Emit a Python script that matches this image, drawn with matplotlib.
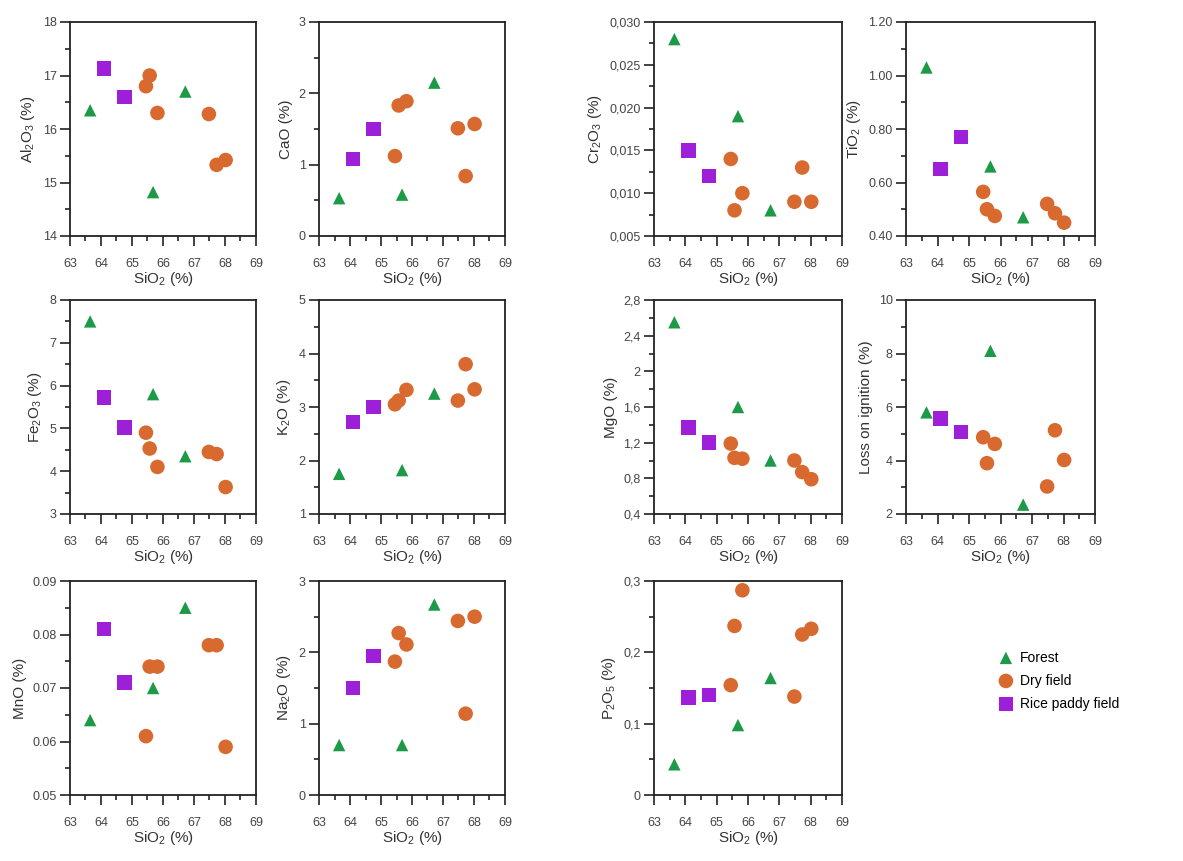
import matplotlib
matplotlib.use("Agg")
import matplotlib.pyplot as plt
from matplotlib.ticker import MultipleLocator

plt.rcParams['font.family'] = ['Liberation Sans', 'DejaVu Sans']
plt.rcParams['mathtext.default'] = 'regular'

# SiO2 (%) for each land use group
sio2_forest = [63.65, 65.68, 66.72]
sio2_rice = [64.10, 64.75]
sio2_dry = [65.45, 65.57, 65.82, 67.48, 67.73, 68.02]

# oxide values: forest / rice paddy field / dry field
al2o3_forest = [16.35, 14.82, 16.70]
al2o3_rice = [17.13, 16.60]
al2o3_dry = [16.80, 17.00, 16.30, 16.28, 15.33, 15.42]

cao_forest = [0.53, 0.58, 2.15]
cao_rice = [1.08, 1.50]
cao_dry = [1.12, 1.83, 1.89, 1.51, 0.84, 1.57]

cr2o3_forest = [0.028, 0.019, 0.008]
cr2o3_rice = [0.015, 0.012]
cr2o3_dry = [0.014, 0.008, 0.010, 0.009, 0.013, 0.009]

tio2_forest = [1.03, 0.66, 0.47]
tio2_rice = [0.65, 0.77]
tio2_dry = [0.565, 0.50, 0.475, 0.52, 0.485, 0.45]

fe2o3_forest = [7.50, 5.80, 4.35]
fe2o3_rice = [5.72, 5.02]
fe2o3_dry = [4.90, 4.53, 4.10, 4.45, 4.40, 3.63]

k2o_forest = [1.75, 1.82, 3.25]
k2o_rice = [2.72, 3.00]
k2o_dry = [3.05, 3.12, 3.32, 3.12, 3.80, 3.33]

mgo_forest = [2.55, 1.60, 1.00]
mgo_rice = [1.37, 1.20]
mgo_dry = [1.19, 1.03, 1.02, 1.00, 0.87, 0.79]

loi_forest = [5.80, 8.10, 2.35]
loi_rice = [5.57, 5.07]
loi_dry = [4.87, 3.90, 4.62, 3.03, 5.13, 4.02]

mno_forest = [0.064, 0.070, 0.085]
mno_rice = [0.081, 0.071]
mno_dry = [0.061, 0.074, 0.074, 0.078, 0.078, 0.059]

na2o_forest = [0.70, 0.70, 2.67]
na2o_rice = [1.50, 1.95]
na2o_dry = [1.87, 2.27, 2.11, 2.44, 1.14, 2.50]

p2o5_forest = [0.043, 0.098, 0.164]
p2o5_rice = [0.137, 0.140]
p2o5_dry = [0.154, 0.237, 0.287, 0.138, 0.225, 0.233]

# y tick values and labels as printed on the original
al2o3_ticks = [14, 15, 16, 17, 18]
al2o3_labels = ["14", "15", "16", "17", "18"]
cao_ticks = [0, 1, 2, 3]
cao_labels = ["0", "1", "2", "3"]
cr2o3_ticks = [0.005, 0.010, 0.015, 0.020, 0.025, 0.030]
cr2o3_labels = ["0,005", "0,010", "0,015", "0,020", "0,025", "0,030"]
tio2_ticks = [0.40, 0.60, 0.80, 1.00, 1.20]
tio2_labels = ["0.40", "0.60", "0.80", "1.00", "1.20"]
fe2o3_ticks = [3, 4, 5, 6, 7, 8]
fe2o3_labels = ["3", "4", "5", "6", "7", "8"]
k2o_ticks = [1, 2, 3, 4, 5]
k2o_labels = ["1", "2", "3", "4", "5"]
mgo_ticks = [0.4, 0.8, 1.2, 1.6, 2.0, 2.4, 2.8]
mgo_labels = ["0,4", "0,8", "1,2", "1,6", "2", "2,4", "2,8"]
loi_ticks = [2, 4, 6, 8, 10]
loi_labels = ["2", "4", "6", "8", "10"]
mno_ticks = [0.05, 0.06, 0.07, 0.08, 0.09]
mno_labels = ["0.05", "0.06", "0.07", "0.08", "0.09"]
na2o_ticks = [0, 1, 2, 3]
na2o_labels = ["0", "1", "2", "3"]
p2o5_ticks = [0, 0.1, 0.2, 0.3]
p2o5_labels = ["0", "0,1", "0,2", "0,3"]

x_ticks = [63, 64, 65, 66, 67, 68, 69]

COLOR_FOREST = "#1c9a48"
COLOR_DRY = "#d8692f"
COLOR_RICE = "#9e1fd8"

panels = [
    ("Al$_2$O$_3$ (%)", al2o3_forest, al2o3_rice, al2o3_dry, al2o3_ticks, al2o3_labels),
    ("CaO (%)", cao_forest, cao_rice, cao_dry, cao_ticks, cao_labels),
    ("Cr$_2$O$_3$ (%)", cr2o3_forest, cr2o3_rice, cr2o3_dry, cr2o3_ticks, cr2o3_labels),
    ("TiO$_2$ (%)", tio2_forest, tio2_rice, tio2_dry, tio2_ticks, tio2_labels),
    ("Fe$_2$O$_3$ (%)", fe2o3_forest, fe2o3_rice, fe2o3_dry, fe2o3_ticks, fe2o3_labels),
    ("K$_2$O (%)", k2o_forest, k2o_rice, k2o_dry, k2o_ticks, k2o_labels),
    ("MgO (%)", mgo_forest, mgo_rice, mgo_dry, mgo_ticks, mgo_labels),
    ("Loss on ignition (%)", loi_forest, loi_rice, loi_dry, loi_ticks, loi_labels),
    ("MnO (%)", mno_forest, mno_rice, mno_dry, mno_ticks, mno_labels),
    ("Na$_2$O (%)", na2o_forest, na2o_rice, na2o_dry, na2o_ticks, na2o_labels),
    ("P$_2$O$_5$ (%)", p2o5_forest, p2o5_rice, p2o5_dry, p2o5_ticks, p2o5_labels),
]

W, H = 1183, 861
col_left = [70, 319, 654, 906]
col_width = [186, 186, 188, 189]
row_top = [22, 300, 581]
panel_h = 214

fig = plt.figure(figsize=(W / 100, H / 100), dpi=100)

handles = None
for i, (ylabel, yf, yr, yd, yt, ytl) in enumerate(panels):
    r, c = divmod(i, 4)
    ax = fig.add_axes([col_left[c] / W, (H - row_top[r] - panel_h) / H,
                       col_width[c] / W, panel_h / H])
    h1 = ax.scatter(sio2_forest, yf, marker="^", s=80, color=COLOR_FOREST,
                    edgecolors="none", label="Forest", zorder=3)
    h2 = ax.scatter(sio2_dry, yd, marker="o", s=110, color=COLOR_DRY,
                    edgecolors="none", label="Dry field", zorder=3)
    h3 = ax.scatter(sio2_rice, yr, marker="s", s=110, color=COLOR_RICE,
                    edgecolors="none", label="Rice paddy field", zorder=3)
    handles = [h1, h2, h3]

    ax.set_xlim(63, 69)
    ax.set_xticks(x_ticks)
    ax.xaxis.set_minor_locator(MultipleLocator(0.5))
    ax.set_ylim(yt[0], yt[-1])
    ax.set_yticks(yt)
    ax.set_yticklabels(ytl)
    step = yt[1] - yt[0]
    ax.yaxis.set_minor_locator(MultipleLocator(step / 2))

    ax.set_xlabel("SiO$_2$ (%)", fontsize=11, labelpad=0, color="#333333")
    ax.set_ylabel(ylabel, fontsize=11, labelpad=4, color="#333333")
    ax.tick_params(which="major", direction="out", length=7, width=1.2,
                   labelsize=9, colors="#222222", labelcolor="#444444")
    ax.tick_params(which="minor", direction="out", length=3.5, width=1.2,
                   colors="#222222")
    ax.tick_params(axis="x", which="major", pad=9)
    ax.tick_params(axis="y", which="major", pad=2.5)
    for sp in ax.spines.values():
        sp.set_linewidth(1.3)
        sp.set_color("#222222")

fig.legend(handles=handles, loc="upper left",
           bbox_to_anchor=(992 / W, (H - 645) / H), frameon=False,
           fontsize=10, handletextpad=0.4, labelspacing=0.65,
           borderaxespad=0, handlelength=1.2)

fig.savefig("out.png", dpi=100)
